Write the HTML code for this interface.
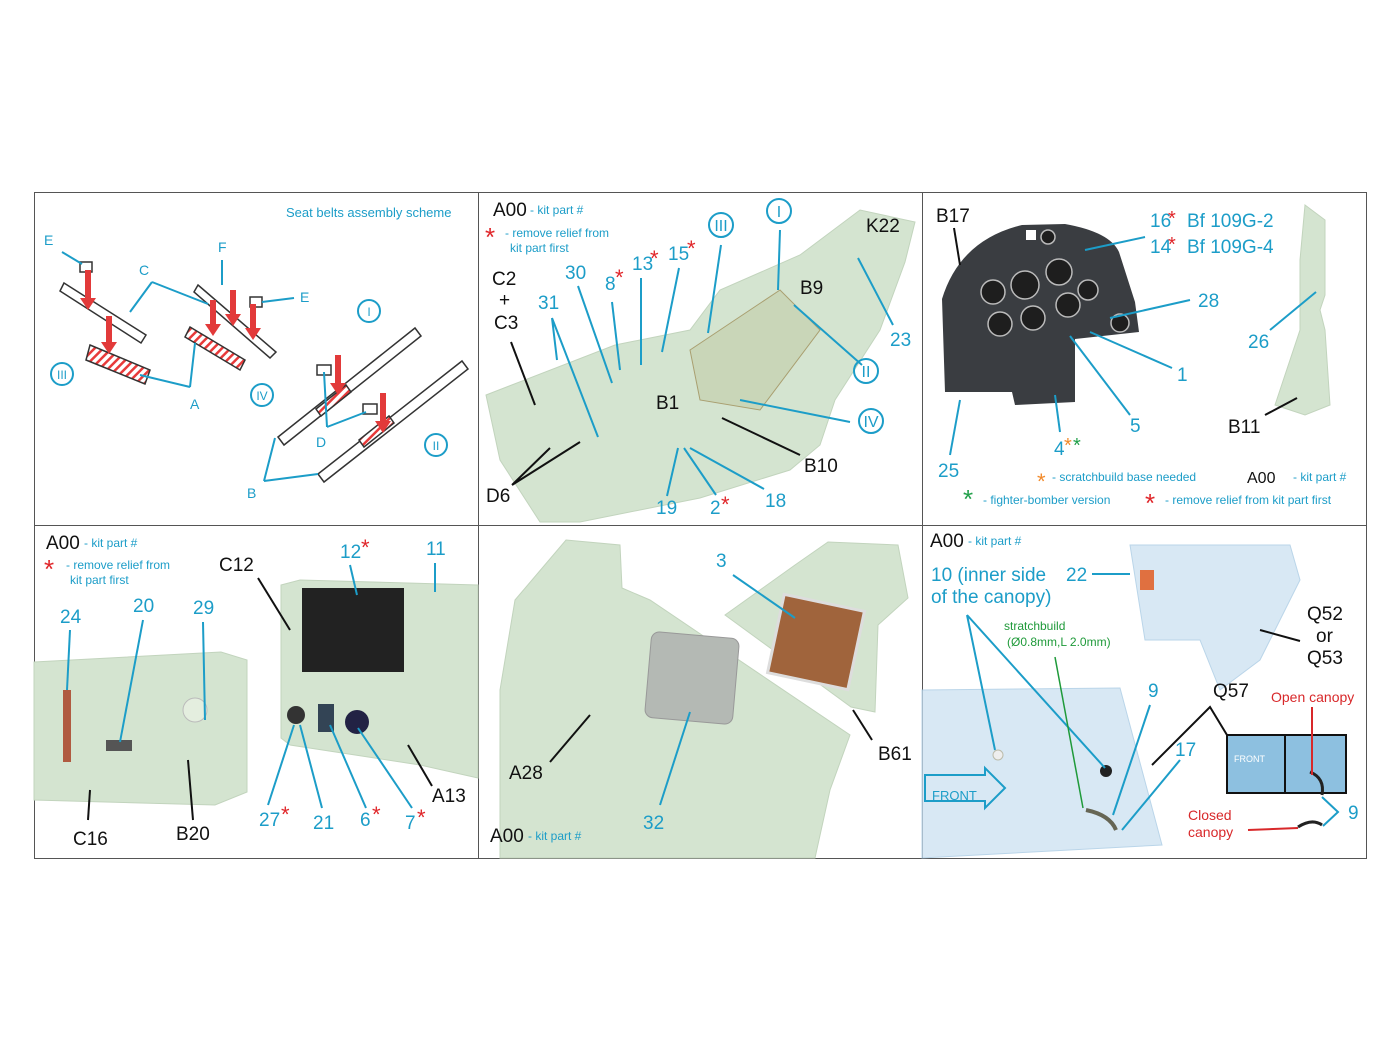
<!DOCTYPE html>
<html><head><meta charset="utf-8"><style>
html,body{margin:0;padding:0;background:#fff}
svg{display:block}
text{font-family:"Liberation Sans",sans-serif}
.c{fill:#1c9dc8}.k{fill:#111}.r{fill:#e0262a}
.lc{stroke:#1c9dc8;stroke-width:2;fill:none}.lk{stroke:#111;stroke-width:2;fill:none}
.m{fill:#d4e4d0;stroke:#c2d4bd}
.g{fill:#cfe3f2;stroke:#a9cbe4;opacity:.8}
</style></head><body>
<svg width="1400" height="1050" viewBox="0 0 1400 1050" xmlns="http://www.w3.org/2000/svg">
<defs><pattern id="h" width="6" height="6" patternUnits="userSpaceOnUse" patternTransform="rotate(45)"><rect width="6" height="6" fill="#fff"/><rect width="2.5" height="6" fill="#e83a3a"/></pattern></defs>
<rect width="1400" height="1050" fill="#fff"/>
<rect x="34.5" y="192.5" width="1332" height="666" fill="none" stroke="#555"/>
<line x1="478.5" y1="192" x2="478.5" y2="858" stroke="#555"/>
<line x1="922.5" y1="192" x2="922.5" y2="858" stroke="#555"/>
<line x1="34" y1="525.5" x2="1366" y2="525.5" stroke="#555"/>

<!-- Panel 1 seat belts -->
<text x="286" y="217" font-size="13" class="c">Seat belts assembly scheme</text>
<g stroke="#333" stroke-width="1.5" fill="#fff">
<path d="M64 283 L146 335 L141 343 L60 291 Z"/>
<path d="M198 285 L276 352 L270 358 L194 292 Z"/>
<path d="M278 437 L415 328 L421 336 L284 445 Z"/>
<path d="M318 474 L462 361 L468 369 L324 482 Z"/>
<path d="M90 345 L150 370 L145 384 L86 360 Z" fill="url(#h)"/>
<path d="M190 327 L245 360 L240 370 L185 337 Z" fill="url(#h)"/>
<path d="M316 409 L346 385 L351 392 L321 416 Z" fill="url(#h)"/>
<path d="M359 440 L389 416 L394 423 L364 447 Z" fill="url(#h)"/>
<rect x="80" y="262" width="12" height="10"/><rect x="250" y="297" width="12" height="10"/><rect x="317" y="365" width="14" height="10"/><rect x="363" y="404" width="14" height="10"/>
</g>
<g fill="#e23a3a">
<rect x="85" y="270" width="6" height="30"/><path d="M80 298h16l-8 12z"/>
<rect x="106" y="316" width="6" height="28"/><path d="M101 342h16l-8 12z"/>
<rect x="210" y="300" width="6" height="26"/><path d="M205 324h16l-8 12z"/>
<rect x="230" y="290" width="6" height="26"/><path d="M225 314h16l-8 12z"/>
<rect x="250" y="304" width="6" height="26"/><path d="M245 328h16l-8 12z"/>
<rect x="335" y="355" width="6" height="30"/><path d="M330 383h16l-8 12z"/>
<rect x="380" y="393" width="6" height="30"/><path d="M375 421h16l-8 12z"/>
</g>
<g class="c" font-size="14">
<text x="44" y="245">E</text><text x="139" y="275">C</text><text x="218" y="252">F</text><text x="300" y="302">E</text>
<text x="190" y="409">A</text><text x="316" y="447">D</text><text x="247" y="498">B</text>
</g>
<g class="lc" stroke-width="1.3">
<path d="M62 252 L82 264"/><path d="M152 282 L130 312 M152 282 L208 304"/><path d="M222 260 L222 285"/><path d="M294 298 L262 302"/>
<path d="M190 387 L140 375 M190 387 L195 343"/>
<path d="M327 427 L324 372 M327 427 L366 412"/><path d="M264 481 L275 438 M264 481 L318 474"/>
<circle cx="62" cy="374" r="11"/><circle cx="262" cy="395" r="11"/><circle cx="369" cy="311" r="11"/><circle cx="436" cy="445" r="11"/>
</g>
<g class="c" font-size="12" text-anchor="middle"><text x="62" y="379">III</text><text x="262" y="400">IV</text><text x="369" y="316">I</text><text x="436" y="450">II</text></g>

<!-- Panel 2 -->
<path class="m" d="M486 395 L615 345 L690 330 L720 290 L800 255 L860 210 L915 222 L905 262 L880 330 L835 400 L820 445 L790 470 L700 498 L580 522 L540 522 L500 460 Z"/>
<path d="M690 350 L780 290 L820 330 L760 410 L700 400 Z" fill="#c9d6b8" stroke="#a99f70"/>
<text x="493" y="216" font-size="19" class="k">A00</text><text x="530" y="214" font-size="12" class="c">- kit part #</text>
<text x="485" y="246" font-size="26" class="r">*</text><text x="505" y="237" font-size="12" class="c">- remove relief from</text><text x="510" y="252" font-size="12" class="c">kit part first</text>
<g font-size="19" class="c">
<text x="565" y="279">30</text><text x="538" y="309">31</text><text x="605" y="290">8</text><text x="632" y="270">13</text><text x="668" y="260">15</text>
<text x="890" y="346">23</text>
<text x="656" y="514">19</text><text x="710" y="514">2</text><text x="765" y="507">18</text>
</g>
<g font-size="22" class="r"><text x="615" y="285">*</text><text x="650" y="266">*</text><text x="687" y="256">*</text><text x="721" y="512">*</text></g>
<g font-size="19" class="k">
<text x="492" y="285">C2</text><text x="499" y="306">+</text><text x="494" y="329">C3</text><text x="866" y="232">K22</text><text x="800" y="294">B9</text>
<text x="656" y="409">B1</text><text x="804" y="472">B10</text><text x="486" y="502">D6</text>
</g>
<g class="lc" stroke-width="1.6">
<path d="M552 318 L557 360 M552 318 L598 437"/><path d="M578 286 L612 383"/><path d="M612 302 L620 370"/><path d="M641 278 L641 365"/>
<path d="M679 268 L662 352"/><path d="M721 245 L708 333"/><path d="M780 230 L778 290"/><path d="M862 365 L794 305"/><path d="M850 422 L740 400"/><path d="M893 325 L858 258"/>
<path d="M667 496 L678 448"/><path d="M716 495 L684 448"/><path d="M764 489 L690 448"/>
<circle cx="721" cy="225" r="12"/><circle cx="779" cy="211" r="12"/><circle cx="866" cy="371" r="12"/><circle cx="871" cy="421" r="12"/>
</g>
<g class="c" font-size="16" text-anchor="middle"><text x="721" y="231">III</text><text x="779" y="217">I</text><text x="866" y="377">II</text><text x="871" y="427">IV</text></g>
<g class="lk" stroke-width="1.8"><path d="M511 342 L535 405"/><path d="M512 485 L550 448 M512 485 L580 442"/><path d="M800 455 L722 418"/></g>

<!-- Panel 3 -->
<path d="M942 299 Q960 240 1022 225 L1065 224 Q1110 232 1119 252 L1135 302 L1139 332 L1075 339 L1075 402 L1015 405 L1012 392 L945 392 Z" fill="#3a3d41"/>
<g fill="#1e1e1e" stroke="#bbb" stroke-width="1.5"><circle cx="993" cy="292" r="12"/><circle cx="1025" cy="285" r="14"/><circle cx="1059" cy="272" r="13"/><circle cx="1088" cy="290" r="10"/><circle cx="1000" cy="324" r="12"/><circle cx="1033" cy="318" r="12"/><circle cx="1068" cy="305" r="12"/><circle cx="1120" cy="323" r="9"/><circle cx="1048" cy="237" r="7"/></g>
<rect x="1026" y="230" width="10" height="10" fill="#fff"/>
<path class="m" d="M1305 205 L1325 220 L1325 295 L1320 310 L1325 330 L1330 405 L1305 415 L1275 405 L1300 330 L1300 260 Z"/>
<g font-size="19" class="k"><text x="936" y="222">B17</text><text x="1228" y="433">B11</text><text x="1247" y="483" font-size="16">A00</text></g>
<text x="1293" y="481" font-size="12" class="c">- kit part #</text>
<g font-size="19" class="c"><text x="1150" y="227">16</text><text x="1150" y="253">14</text><text x="1187" y="227">Bf 109G-2</text><text x="1187" y="253">Bf 109G-4</text>
<text x="1198" y="307">28</text><text x="1177" y="381">1</text><text x="1130" y="432">5</text><text x="1054" y="455">4</text><text x="1248" y="348">26</text><text x="938" y="477">25</text></g>
<g font-size="20" class="r"><text x="1168" y="225">*</text><text x="1168" y="251">*</text></g>
<text x="1064" y="452" font-size="20" fill="#f28a2a">*</text><text x="1073" y="452" font-size="20" fill="#22a04a">*</text>
<text x="1037" y="489" font-size="22" fill="#f28a2a">*</text><text x="1052" y="481" font-size="12" class="c">- scratchbuild base needed</text>
<text x="963" y="508" font-size="26" fill="#22a04a">*</text><text x="983" y="504" font-size="12" class="c">- fighter-bomber version</text>
<text x="1145" y="512" font-size="26" class="r">*</text><text x="1165" y="504" font-size="12" class="c">- remove relief from kit part first</text>
<g class="lc" stroke-width="1.6"><path d="M1145 237 L1085 250"/><path d="M1190 300 L1110 318"/><path d="M1172 368 L1090 332"/><path d="M1130 415 L1070 336"/><path d="M1060 432 L1055 395"/><path d="M1270 330 L1316 292"/><path d="M950 455 L960 400"/></g>
<g class="lk" stroke-width="1.6"><path d="M954 228 L960 265"/><path d="M1265 415 L1297 398"/></g>

<!-- Panel 4 -->
<path class="m" d="M34 662 L221 652 L247 660 L247 792 L215 805 L34 800 Z"/>
<path class="m" d="M281 585 L300 580 L478 585 L478 778 L420 765 L290 745 L281 738 Z"/>
<rect x="302" y="588" width="102" height="84" fill="#222"/>
<circle cx="296" cy="715" r="9" fill="#333"/><circle cx="357" cy="722" r="12" fill="#224"/><rect x="318" y="704" width="16" height="28" fill="#345"/>
<rect x="63" y="690" width="8" height="72" fill="#b05a40"/><rect x="106" y="740" width="26" height="11" fill="#555"/><circle cx="195" cy="710" r="12" fill="#e4eedf" stroke="#bbb"/>
<text x="46" y="549" font-size="19" class="k">A00</text><text x="84" y="547" font-size="12" class="c">- kit part #</text>
<text x="44" y="578" font-size="26" class="r">*</text><text x="66" y="569" font-size="12" class="c">- remove relief from</text><text x="70" y="584" font-size="12" class="c">kit part first</text>
<g font-size="19" class="k"><text x="219" y="571">C12</text><text x="73" y="845">C16</text><text x="176" y="840">B20</text><text x="432" y="802">A13</text></g>
<g font-size="19" class="c"><text x="60" y="623">24</text><text x="133" y="612">20</text><text x="193" y="614">29</text><text x="340" y="558">12</text><text x="426" y="555">11</text>
<text x="259" y="826">27</text><text x="313" y="829">21</text><text x="360" y="826">6</text><text x="405" y="829">7</text></g>
<g font-size="22" class="r"><text x="361" y="555">*</text><text x="281" y="822">*</text><text x="372" y="822">*</text><text x="417" y="825">*</text></g>
<g class="lc" stroke-width="1.6"><path d="M70 630 L67 690"/><path d="M143 620 L120 742"/><path d="M203 622 L205 720"/><path d="M350 565 L357 595"/><path d="M435 563 L435 592"/><path d="M268 805 L294 725"/><path d="M322 808 L300 725"/><path d="M366 808 L330 725"/><path d="M412 808 L358 728"/></g>
<g class="lk" stroke-width="1.8"><path d="M258 578 L290 630"/><path d="M88 820 L90 790"/><path d="M193 820 L188 760"/><path d="M432 786 L408 745"/></g>

<!-- Panel 5 -->
<path class="m" d="M566 540 L620 545 L622 588 L650 600 L850 735 L830 790 L815 858 L500 858 L500 690 L515 600 Z"/>
<path class="m" d="M725 615 L795 565 L828 542 L898 545 L908 598 L878 625 L875 712 L851 707 Z"/>
<rect x="648" y="635" width="88" height="86" rx="8" fill="#b4b9b4" stroke="#999" transform="rotate(5 692 678)"/>
<rect x="775" y="602" width="82" height="80" fill="#a0643c" stroke="#ddd" stroke-width="3" transform="rotate(12 816 642)"/>
<text x="509" y="779" font-size="19" class="k">A28</text><text x="878" y="760" font-size="19" class="k">B61</text>
<text x="490" y="842" font-size="19" class="k">A00</text><text x="528" y="840" font-size="12" class="c">- kit part #</text>
<text x="716" y="567" font-size="19" class="c">3</text><text x="643" y="829" font-size="19" class="c">32</text>
<g class="lc" stroke-width="1.6"><path d="M733 575 L795 618"/><path d="M660 805 L690 712"/></g>
<g class="lk" stroke-width="1.8"><path d="M550 762 L590 715"/><path d="M872 740 L853 710"/></g>

<!-- Panel 6 -->
<path class="g" d="M1130 545 L1290 545 L1300 580 L1260 660 L1220 690 L1200 640 L1145 640 Z"/>
<path class="g" d="M922 690 L1120 688 L1162 845 L922 858 Z"/>
<rect x="1140" y="570" width="14" height="20" fill="#e07040"/>
<text x="930" y="547" font-size="19" class="k">A00</text><text x="968" y="545" font-size="12" class="c">- kit part #</text>
<g font-size="19" class="c"><text x="931" y="581">10 (inner side</text><text x="931" y="603">of the canopy)</text><text x="1066" y="581">22</text>
<text x="1148" y="697">9</text><text x="1175" y="756">17</text><text x="1348" y="819">9</text></g>
<text x="1004" y="630" font-size="12" fill="#1f9a3a">stratchbuild</text><text x="1007" y="646" font-size="12" fill="#1f9a3a">(Ø0.8mm,L 2.0mm)</text>
<g font-size="19" class="k"><text x="1307" y="620">Q52</text><text x="1316" y="642">or</text><text x="1307" y="664">Q53</text><text x="1213" y="697">Q57</text></g>
<g font-size="14" fill="#d8282a"><text x="1271" y="702">Open canopy</text><text x="1188" y="820">Closed</text><text x="1188" y="837">canopy</text></g>
<text x="932" y="800" font-size="13" class="c">FRONT</text>
<path d="M925 775 L985 775 L985 768 L1005 788 L985 808 L985 801 L925 801 Z" fill="none" stroke="#1c9dc8" stroke-width="2"/>
<rect x="1227" y="735" width="119" height="58" fill="#8dc0e0" stroke="#111" stroke-width="2"/><line x1="1285" y1="735" x2="1285" y2="793" stroke="#111" stroke-width="2"/>
<text x="1234" y="762" font-size="9" fill="#fff">FRONT</text>
<circle cx="998" cy="755" r="5" fill="#eee" stroke="#bba"/><circle cx="1106" cy="771" r="6" fill="#222"/>
<path d="M1086 810 Q1110 815 1116 830" stroke="#665" stroke-width="4" fill="none"/>
<path d="M1310 772 Q1325 778 1322 795" stroke="#222" stroke-width="3" fill="none"/>
<path d="M1298 827 Q1312 818 1322 825" stroke="#222" stroke-width="3" fill="none"/>
<g class="lc" stroke-width="1.6"><path d="M967 615 L995 750 M967 615 L1105 768"/><path d="M1092 574 L1130 574"/><path d="M1150 705 L1113 815"/><path d="M1180 760 L1122 830"/><path d="M1322 797 L1338 812 L1323 826"/></g>
<path d="M1055 657 L1083 808" stroke="#1f9a3a" stroke-width="1.5"/>
<g class="lk" stroke-width="1.8"><path d="M1152 765 L1210 707 L1227 735"/><path d="M1260 630 L1300 641"/></g>
<g stroke="#d8282a" stroke-width="2"><path d="M1312 707 L1312 775"/><path d="M1248 830 L1298 828"/></g>
</svg>
</body></html>
